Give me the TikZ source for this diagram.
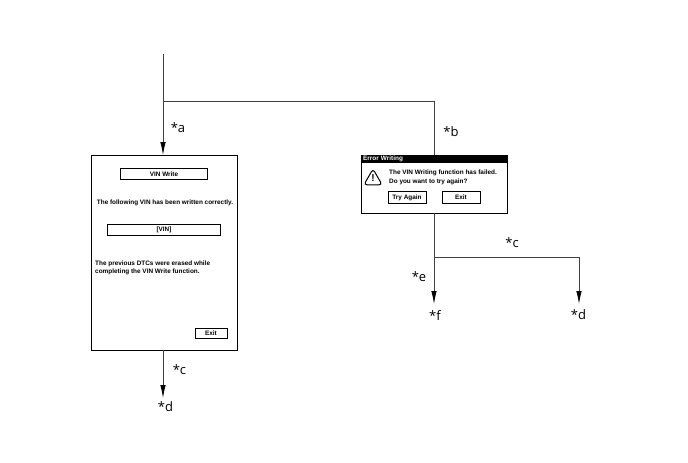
\documentclass[tikz,border=0pt]{standalone}
\usepackage{fontspec}
\setmainfont{Liberation Sans}
\newfontfamily\labelfont{Open Sans}
\usetikzlibrary{arrows.meta,arrows}
\usetikzlibrary{positioning}
\usetikzlibrary{calc, shapes, backgrounds}

\begin{document}
\begin{tikzpicture}[x=1pt,y=-1pt]
\tikzstyle{screen node}=[rectangle,draw,line width=1.45,inner sep=0,anchor=north west]
\tikzstyle{field node}=[rectangle,draw,line width=0.9,inner sep=0,font=\fontsize{6.4}{8}\selectfont\bfseries]
\tikzstyle{msg node}=[inner sep=0,align=left,font=\fontsize{6.4}{8.5}\selectfont\bfseries]
\tikzstyle{title node}=[rectangle,fill=black,text=white,inner sep=0,anchor=north west,font=\fontsize{6.4}{8}\selectfont\bfseries]
\tikzstyle{ref node}=[inner sep=0,font=\fontsize{13}{15}\selectfont\labelfont]
\tikzset{
  flow/.style = {draw=black!75,line width=0.8,-{Latex[black,length=13,width=5.5]}},
  plain/.style = {draw=black!75,line width=0.8}
}

\useasboundingbox (0,0) rectangle (688,463);

    \coordinate (start) at (163,54);
    \coordinate (fork) at (163,101);
    \coordinate (corner) at (434,101);
    \node[screen node,minimum width=146,minimum height=195] (vin) at (91,155) {};
    \node[screen node,line width=1.2,minimum width=146,minimum height=58] (err) at (361,155) {};
    \node[title node,text width=146,minimum height=8,align=left] (errt) at (361,155) {\hspace{2pt}Error Writing};
    \coordinate (fork2) at (434,257);
    \coordinate (corner2) at (579,257);
    \coordinate (vintop) at (163,155);
    \coordinate (errtop) at (434,155);
    \coordinate (errbot) at (434,213);
    \coordinate (vinbot) at (163,350);
    %%%%%%%%%%%%%%%%%%%%%%%%%%%%%%%%%%%%%%%%%%
    \node[field node,minimum width=87,minimum height=11] (vw) at (164,174) {VIN Write};
    \node[msg node] (ok) at (165,202.5) {The following VIN has been written correctly.};
    \node[field node,minimum width=113,minimum height=11] (vf) at (164,229.5) {[VIN]};
    \node[msg node,anchor=west] (dtc) at (95,267.7) {The previous DTCs were erased while\\completing the VIN Write function.};
    \node[field node,minimum width=32,minimum height=10] (ex1) at (211,333) {Exit};
    %%%%%%%%%%%%%%%%%%%%%%%%%%%%%%%%%%%%%%%%%%
    \node[regular polygon,regular polygon sides=3,draw,line width=1,rounded corners=3,minimum size=21,inner sep=0] (warn) at (373,179.5) {};
    \node[inner sep=0,font=\fontsize{10}{10}\selectfont\bfseries] (bang) at (373,178.5) {!};
    \node[msg node,anchor=west,font=\fontsize{6.4}{9}\selectfont\bfseries] (fail) at (389,177) {The VIN Writing function has failed.\\Do you want to try again?};
    \node[field node,minimum width=38,minimum height=12] (try) at (407,197.5) {Try Again};
    \node[field node,minimum width=38,minimum height=12] (ex2) at (461,197.5) {Exit};
    %%%%%%%%%%%%%%%%%%%%%%%%%%%%%%%%%%%%%%%%%%
    \node[ref node] (la) at (178,128) {*a};
    \node[ref node] (lb) at (451,132) {*b};
    \node[ref node] (lc) at (512,243) {*c};
    \node[ref node] (le) at (419,277) {*e};
    \node[ref node] (lf) at (435,316) {*f};
    \node[ref node] (ld) at (578.5,315) {*d};
    \node[ref node] (lc2) at (179.5,370) {*c};
    \node[ref node] (ld2) at (165.5,407) {*d};
    \coordinate (endf) at (434,304);
    \coordinate (endd) at (579,304);
    \coordinate (endd2) at (163,398);

    \draw[flow] (start) -- (vintop);
    \draw[plain] (fork) -- (corner) -- (errtop);
    \draw[flow] (errbot) -- (endf);
    \draw[flow] (fork2) -- (corner2) -- (endd);
    \draw[flow] (vinbot) -- (endd2);
\end{tikzpicture}
\end{document}
